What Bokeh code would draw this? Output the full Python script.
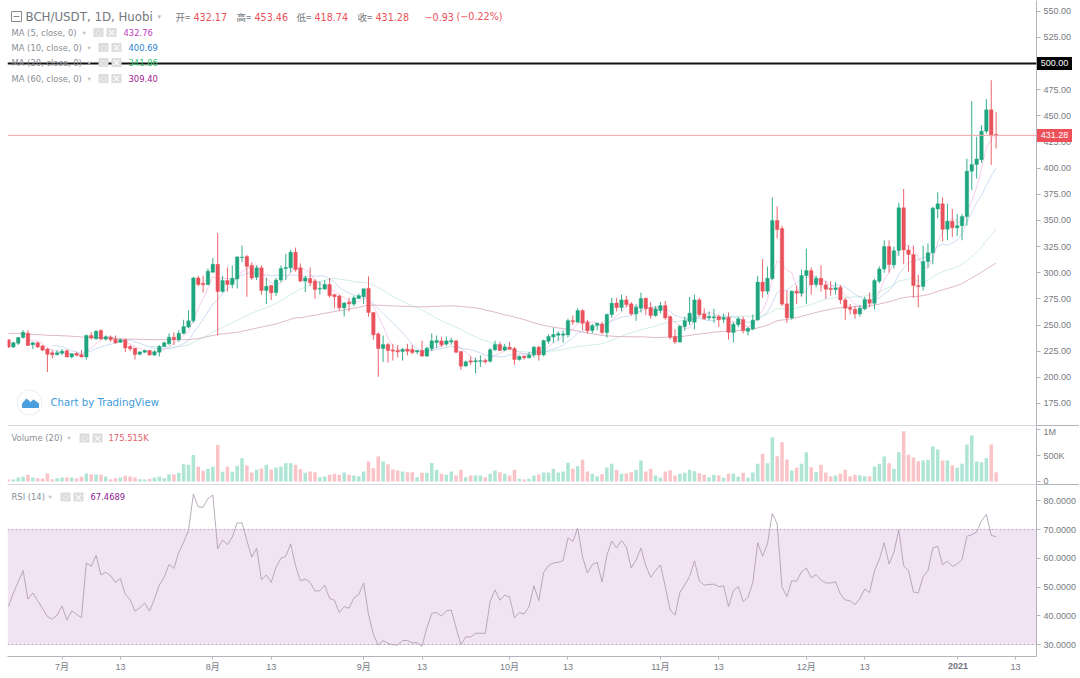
from bokeh.embed import file_html
from bokeh.layouts import column
from bokeh.models import (BoxAnnotation, ColumnDataSource, Div, FixedTicker, Label,
                          NumeralTickFormatter, Range1d, Span)
from bokeh.plotting import figure
from bokeh.resources import INLINE
import pandas as pd

# daily candles, 20 Jun 2020 onwards
opens = [
    236, 229, 232.6, 238, 242, 231, 233, 230, 227, 223.5,
    221.5, 223, 225.5, 219.5, 222.8, 221.5, 219.5, 240, 236.8, 244.7,
    236.5, 238.4, 236.4, 233.5, 236, 229.4, 227.8, 222, 224, 225.6,
    221.2, 224, 229.4, 232, 238.4, 236, 242, 248, 254, 295,
    290, 288.7, 300.5, 308, 282, 292.5, 288.7, 294, 314.5, 315.5,
    307, 295.7, 304.6, 283, 287.7, 281, 293, 304, 304.6, 319.6,
    304.6, 292, 294.5, 292, 284.3, 284.3, 288.7, 279, 277.6, 266.4,
    271.8, 270, 275.3, 277, 285, 262, 241.5, 227.5, 231.3, 226.2,
    225.6, 224.6, 227, 226.6, 224.3, 225.6, 220.2, 227.5, 233.2, 234.8,
    231.7, 233.9, 234.8, 224.6, 210.8, 215.8, 214.8, 215.4, 216, 215.4,
    226.3, 231.3, 226, 228.8, 227.5, 217, 220.2, 218.6, 221.4, 228.8,
    221.4, 234.5, 238.6, 240.2, 240.2, 240.5, 254.2, 252.7, 263.8, 252.7,
    244.7, 249.8, 251, 242.8, 260, 271, 266.7, 274, 270.2, 260.6,
    266, 275.6, 266.7, 259, 263.8, 268.6, 258, 239, 233.8, 248.5,
    253.3, 252.7, 274, 260.6, 256.8, 256.8, 258, 255.5, 257.4, 242.8,
    250.4, 255.2, 244, 246.3, 254.9, 291, 282.3, 294.4, 350, 342.2,
    270.2, 256.8, 282.3, 280.4, 297.3, 302, 288.7, 294.7, 288.4, 284.9,
    283.9, 286, 274, 266.7, 265, 260.6, 265.4, 274.3, 270.8, 291.9,
    303.6, 325, 307.5, 321.2, 362, 321.8, 317.4, 287.7, 286.8, 310.7,
    319, 361, 365.8, 341.6, 349.3, 342.9, 345, 353.7, 397, 403.4,
    408, 435.3, 455.7, 432.17,
]
closes = [
    229, 233, 238, 243, 230.5, 233, 229, 226, 222, 221.5,
    223.5, 225, 219.5, 222.5, 221, 219.5, 240, 237.5, 244, 236.5,
    238.7, 236, 233, 236, 228, 227.2, 221.8, 224.3, 225.6, 221.2,
    224.5, 229.4, 233, 238.4, 236, 242, 248.5, 254, 295, 288.7,
    288.5, 301.5, 308, 282, 292.5, 288.7, 294.8, 315, 315, 306,
    295, 304.6, 283, 287, 280.7, 293, 304, 305, 319.5, 303,
    292, 295, 290.3, 284, 285, 288.7, 278, 277, 266.4, 271,
    270.2, 276, 278, 284.6, 262, 240.6, 227.5, 231.3, 225.6, 225,
    224.3, 226.6, 225, 223.7, 225.6, 220.2, 227.8, 234.8, 235.2, 231,
    234.8, 235.2, 224, 210.6, 214.8, 214.5, 215.8, 216, 214.8, 226.3,
    231.3, 225.6, 229, 226.9, 217, 220, 218.6, 221.5, 228.8, 221.4,
    235.1, 239, 240.9, 241.8, 241.5, 254.2, 253, 263.8, 251.7, 244.4,
    249.5, 251.7, 242.8, 260, 270.8, 266.7, 274, 269.5, 260.6, 267,
    275.3, 265.7, 259, 265.4, 268.6, 256.8, 238.3, 233.8, 248.8, 254.2,
    261.3, 274, 260, 256, 258, 257.8, 255, 257, 243, 250.7,
    255.8, 244.7, 246.9, 254.6, 291, 282.3, 294.7, 350, 341.3, 270,
    256.8, 282.3, 280.4, 297.3, 302, 288.4, 294.7, 288.4, 284.2, 283.9,
    285.5, 274, 266, 265, 260.6, 266, 274.3, 270.8, 292.5, 303.6,
    325, 307.8, 321, 362, 321.8, 317.4, 287.7, 286.8, 310.7, 319,
    361.7, 365.8, 341.6, 349.3, 342.9, 345, 353.7, 397, 403.4, 408.8,
    435.3, 455.7, 431, 431.28,
]
highs = [
    236, 234, 238.5, 245, 245, 234, 234, 231, 228, 226,
    226, 227, 226.5, 223, 224, 226, 241, 243, 245, 246,
    240, 240, 240, 237, 237, 231, 228, 225, 226.5, 226,
    226, 231, 234, 242, 243, 245, 255, 264, 296, 297,
    297, 304, 314, 338, 297, 305, 307, 316, 326, 317,
    310, 307, 307, 295, 288, 295, 307, 318, 322, 324,
    309, 297, 305, 294, 292, 293, 295, 280, 279, 272,
    276, 278, 280, 285, 296.5, 262, 243, 240, 233, 232,
    231, 228, 232, 231, 226, 235, 229, 242, 240, 238.7,
    239, 238, 235.5, 225, 216, 220, 219, 221, 218, 228,
    235, 234, 232, 234, 229, 221, 221, 224, 230, 230,
    236, 241, 247.5, 244, 245, 256, 259, 266, 265, 255,
    251, 252, 253, 261, 276, 276, 279, 278, 272, 270,
    281, 276, 272, 268, 272, 273, 259, 246, 250, 258,
    277, 279, 276, 266, 263, 265.5, 260, 261, 262, 253,
    258, 258, 248, 260, 297, 313, 306, 372, 363.5, 345,
    283, 283, 287.7, 303, 323, 305, 297, 307, 292, 292,
    291, 288, 276, 270, 268, 269, 277, 281, 294, 306,
    331, 331, 325, 367, 380, 326, 326, 298, 326, 328,
    363, 377, 372, 366, 361, 356, 356, 409, 464, 430,
    441, 466, 484, 453.46,
]
lows = [
    228, 228, 231, 237, 230, 227, 228, 225, 205, 218,
    221, 221, 219, 218, 220, 219, 217, 236, 236, 236,
    235, 234, 232, 233, 224, 225, 217, 221, 223, 221,
    220.5, 220, 229, 231, 231, 234, 241, 247, 252, 287,
    281, 288, 300, 240, 281, 282, 285, 285, 310, 277,
    293, 293, 279, 270, 274, 278, 291, 293, 300, 301,
    291, 281.5, 287, 275, 279, 284, 276, 266, 264, 258,
    263, 268, 275, 270, 258, 236, 200.5, 214.5, 214, 216,
    219, 216, 221, 222, 222, 220, 220, 225, 228, 229,
    230, 231, 223, 207, 210, 212, 204, 210, 213, 214,
    225, 225, 225, 226, 212, 216, 217, 218, 219, 216,
    220, 232, 233, 235, 233, 238, 250, 252, 245, 242,
    242, 245, 241, 238, 257, 263, 263, 267, 259, 254,
    262, 259.5, 256, 258, 261, 255, 236, 232, 233, 244.5,
    250, 246, 258, 255, 254.5, 252, 248, 252, 236, 233.5,
    248, 242, 240, 245, 254, 276, 279, 293, 333, 268,
    252, 255, 270, 277, 270, 279, 286, 282, 275, 278,
    279, 270, 255, 260, 256, 258, 264, 267, 265, 290,
    300, 300, 304, 316, 308, 301, 276, 267, 283, 305,
    308, 352, 330, 331, 334, 335, 331, 345, 379, 390,
    405, 433, 403, 418.74,
]
# volume, thousands
volumes = [
    38, 38, 77, 90, 128, 77, 64, 58, 154, 45,
    64, 77, 77, 77, 58, 90, 154, 141, 134, 128,
    96, 45, 64, 77, 109, 96, 77, 45, 38, 51,
    77, 90, 64, 141, 134, 166, 333, 320, 512, 288,
    205, 243, 282, 704, 186, 282, 186, 301, 448, 307,
    173, 224, 250, 320, 230, 269, 288, 352, 352, 320,
    237, 166, 192, 179, 83, 96, 128, 147, 128, 173,
    128, 115, 102, 192, 384, 256, 480, 384, 333, 230,
    211, 192, 179, 179, 83, 166, 166, 358, 224, 147,
    128, 192, 115, 224, 83, 115, 115, 115, 83, 147,
    211, 179, 147, 115, 224, 51, 38, 51, 115, 134,
    173, 173, 244, 173, 192, 359, 244, 295, 417, 192,
    147, 103, 141, 269, 340, 224, 147, 154, 179, 224,
    404, 192, 244, 115, 77, 192, 218, 115, 147, 167,
    224, 199, 160, 128, 83, 128, 115, 71, 147, 147,
    90, 167, 71, 173, 340, 532, 353, 853, 487, 756,
    423, 212, 263, 340, 564, 276, 179, 320, 173, 103,
    115, 147, 224, 103, 128, 115, 103, 96, 288, 340,
    481, 353, 244, 564, 968, 513, 461, 391, 404, 417,
    673, 615, 404, 404, 308, 263, 340, 711, 885, 385,
    372, 449, 711, 175.515,
]
rsi = [
    43.2, 47.9, 51.8, 55.7, 45.8, 47.9, 45.2, 42.5, 39.7, 38.8,
    40.2, 43.4, 38.5, 41.7, 40.5, 39.3, 58.4, 57.2, 61, 54.2,
    55.1, 53.9, 51.6, 53, 47.5, 45.5, 41.6, 42.8, 44.4, 41.6,
    45.8, 50.7, 53.4, 57.9, 56.5, 62.1, 65.6, 69.7, 82.3, 77.9,
    77.7, 80.8, 82, 63.3, 66.4, 64.7, 67.4, 72.3, 72.3, 66.2,
    60.4, 63.5, 52.5, 54.2, 51.6, 56.9, 60, 60.7, 65, 57.4,
    52.2, 52.8, 51.6, 48.6, 48.7, 50.7, 46, 45.4, 41.1, 43.2,
    42.6, 46.2, 47.4, 51.4, 40.5, 33.5, 29.8, 31.4, 30.4, 29.9,
    29.8, 31.4, 31.4, 30.6, 30.6, 29.4, 35.8, 40.9, 41.1, 39.9,
    41.7, 42, 35.8, 29.9, 32.7, 32.6, 33.9, 33.9, 33.9, 45,
    49, 45.4, 47.2, 46.5, 39.3, 41.1, 40.6, 43.2, 50.4, 45.3,
    55.1, 57.4, 58.4, 58.6, 59.2, 67.1, 65.9, 70.5, 60.4, 54.9,
    57.8, 58.6, 51.8, 61, 66, 63.6, 66.2, 63.9, 56.6, 59.4,
    63.5, 57.4, 53.4, 55.7, 57.7, 50.2, 42, 40.2, 48.1, 50.7,
    53.7, 59.1, 52.2, 50.7, 50.9, 51, 50.1, 50.4, 43.2, 48.7,
    50.2, 45, 46.4, 51.6, 65.4, 60.7, 65, 75.6, 72, 49.9,
    46.7, 52.2, 52, 55.3, 56.6, 53.2, 54.3, 52.4, 51.4, 51.4,
    51.8, 47.5, 45.5, 45.2, 43.9, 46, 49.3, 48.1, 55.7, 59.6,
    65.4, 58, 62.1, 69.9, 57.4, 55.7, 48.3, 47.9, 53.6, 55.7,
    63.6, 64.2, 57.8, 59, 57.2, 58, 59.6, 67.6, 68.2, 69.1,
    73, 75.3, 68, 67.47,
]
# MA60 over the first 60 candles: its history lies left of the picture
ma60_head = [
    242, 242, 241.8, 241.5, 241.3, 241, 240.8, 240.5, 240.2, 240,
    240, 239.7, 239.5, 239.2, 239, 238.5, 238, 238, 238, 237.8,
    237.5, 237.3, 237, 236.8, 236.6, 236.5, 236.4, 236.3, 236.2, 236.1,
    236, 236, 236, 236, 236, 236, 236, 236, 236.5, 237,
    238, 239, 240, 241, 241.5, 242, 242.5, 243, 244, 245,
    246, 247, 248, 249, 250, 251, 252.5, 254, 255.5, 257,
]
date_ticks = [11, 23, 42, 54, 73, 85, 103, 115, 134, 146, 164, 176, 195, 207]
date_labels = ["7月", "13", "8月", "13", "9月", "13", "10月", "13", "11月", "13", "12月", "13", "", "13"]
price_ticks = [175, 200, 225, 250, 275, 300, 325, 350, 375, 400, 425, 450, 475, 500, 525, 550]
rsi_ticks = [30, 40, 50, 60, 70, 80]
volume_ticks = [0, 500, 1000]
volume_labels = ["0", "500K", "1M"]

UP = "#1fa67f"
DOWN = "#e9525c"
UP_VOL = "#aee5d5"
DOWN_VOL = "#fac3c7"
GREY = "#787b84"
AXIS = "#b4b4bc"
UI_FONT = "DejaVu Sans"
AXIS_FONT = "Liberation Sans, Noto Sans CJK SC"

df = pd.DataFrame({"open": opens, "high": highs, "low": lows, "close": closes,
                   "volume": volumes, "rsi": rsi})
df["i"] = df.index
df["top"] = df[["open", "close"]].max(axis=1)
df["bottom"] = df[["open", "close"]].min(axis=1)
up = df["close"] >= df["open"]
df["color"] = [UP if u else DOWN for u in up]
df["vol_color"] = [UP_VOL if u else DOWN_VOL for u in up]
df["ma5"] = df["close"].rolling(5).mean()
df["ma10"] = df["close"].rolling(10).mean()
# the third line's last value 341.86 only fits a 30 day mean of the closes
df["ma30"] = df["close"].rolling(30).mean()
df["ma60"] = df["close"].rolling(60).mean()
df.loc[:59, "ma60"] = ma60_head
source = ColumnDataSource(df)

x_range = Range1d(-1 / 4.865, 1028 / 4.865)


def pane(height, y_start, y_end, ticks, **kw):
    p = figure(frame_width=1029, frame_height=height, x_range=x_range,
               y_range=Range1d(y_start, y_end), output_backend="svg",
               toolbar_location=None, y_axis_location="right",
               min_border_left=7, min_border_right=43, min_border_top=0,
               min_border_bottom=kw.get("bottom", 0))
    p.grid.visible = False
    p.outline_line_color = None
    p.yaxis.ticker = FixedTicker(ticks=ticks)
    p.yaxis.minor_tick_line_color = None
    p.yaxis.major_tick_out = 4
    p.yaxis.major_tick_in = 0
    p.yaxis.major_label_standoff = 3
    p.yaxis.axis_line_color = AXIS
    p.yaxis.major_tick_line_color = AXIS
    p.yaxis.major_label_text_color = GREY
    p.yaxis.major_label_text_font = AXIS_FONT
    p.yaxis.major_label_text_font_size = "9px"
    return p


def note(p, text, x, y, color=GREY, size=8.6, font=UI_FONT, align="left", page_top=0, style="normal"):
    p.add_layout(Label(x=x, y=y - page_top, x_units="canvas", y_units="canvas", text=text,
                       text_color=color, text_font=font, text_font_size=f"{size}px",
                       text_font_style=style, text_align=align, text_baseline="middle"))


def box(p, left, right, top, bottom, color, page_top=0, line=None):
    p.add_layout(BoxAnnotation(left=left, right=right, top=top - page_top, bottom=bottom - page_top,
                               left_units="canvas", right_units="canvas",
                               top_units="canvas", bottom_units="canvas",
                               fill_color=color, fill_alpha=1 if color else 0,
                               line_color=line, line_alpha=1 if line else 0,
                               level="annotation"))


def icons(p, left, gap, top, page_top):
    box(p, left, left + 10, top, top + 9, "#dcdcde", page_top)
    box(p, left + gap, left + gap + 10, top, top + 9, "#dcdcde", page_top)
    note(p, "×", left + gap + 5, top + 4.5, "#ffffff", 10, align="center", page_top=page_top)
    note(p, "○", left + 5, top + 4.5, "#ffffff", 7, align="center", page_top=page_top)


def tag(left, top, width, height, color, text="", text_color="#ffffff", weight="normal"):
    # laid over the axis strip, where a pane's own annotations get cut off
    return Div(text=text, width=width, height=height, margin=0,
               styles={"position": "absolute", "left": f"{left}px", "top": f"{top}px",
                       "background-color": color, "color": text_color, "text-align": "center",
                       "font-family": "Liberation Sans", "font-size": "9px", "font-weight": weight,
                       "line-height": f"{height}px", "overflow": "hidden"})


# price pane
p1 = pane(426, 500 - 363 / 1.046, 500 + 63 / 1.046, price_ticks)
p1.xaxis.visible = False
p1.yaxis.formatter = NumeralTickFormatter(format="0.00")
for col, color, alpha in [("ma60", "#c77f9d", 0.7), ("ma30", "#9bdcc6", 0.6),
                          ("ma10", "#8db2e2", 0.55), ("ma5", "#e58fd4", 0.55)]:
    p1.line("i", col, source=source, line_color=color, line_alpha=alpha, line_width=0.8)
p1.segment("i", "high", "i", "low", source=source, line_color="color", line_width=0.9)
p1.vbar("i", 0.72, "top", "bottom", source=source, fill_color="color", line_color="color", line_width=0.4)
p1.add_layout(Span(location=431.28, dimension="width", line_color="#f4a6ab", line_width=1))
p1.add_layout(Span(location=500, dimension="width", line_color="#111111", line_width=2))

# TradingView badge
logo_x = [(v - 8) / 4.865 for v in [22, 22, 26, 30, 33, 38, 38]]
logo_y = [500 - (v - 63) / 1.046 for v in [407, 403, 398.5, 402, 399.5, 403, 407]]
p1.scatter([(29 - 8) / 4.865], [500 - (402 - 63) / 1.046], size=25, marker="circle",
           fill_color="#ffffff", line_color="#e6edf5")
p1.patch(logo_x, logo_y, fill_color="#4b9fdf", line_color="#4b9fdf")
note(p1, "Chart by TradingView", 50, 402, "#3f9ad8", 10.2)

# header texts
box(p1, 11, 21, 11, 21, None, line="#8a8a8a")
box(p1, 13, 19, 15.6, 16.4, "#8a8a8a")
note(p1, "BCH/USDT, 1D, Huobi", 25, 16, "#75787e", 11.8)
note(p1, "▾", 157, 16, "#b8b8b8", 7)
red = "#ea4f58"
for label, val, xl, xv in [("开=", "432.17", 175, 193), ("高=", "453.46", 236, 254),
                           ("低=", "418.74", 296, 314), ("收=", "431.28", 357, 375)]:
    note(p1, label, xl, 16, "#75787e", 9.6, "Noto Sans CJK SC")
    note(p1, val, xv, 16, red, 9.6)
note(p1, "−0.93", 424, 16, red, 9.6)
note(p1, "(−0.22%)", 456, 16, red, 9.6)
for label, val, color, y, dd, ic, xv in [
    ("MA (5, close, 0)", "432.76", "#c43cc0", 32, 82, 93, 123),
    ("MA (10, close, 0)", "400.69", "#2b7fd1", 47, 87, 98, 128),
    ("MA (20, close, 0)", "341.86", "#2fc46f", 62, 87, 98, 128),
    ("MA (60, close, 0)", "309.40", "#a3208f", 78, 87, 98, 128),
]:
    note(p1, label, 11, y, "#8a8d93", 8.4)
    note(p1, "▾", dd, y, "#c0c0c0", 6.5)
    icons(p1, ic, 13, y - 4.5, 0)
    note(p1, val, xv, y, color, 8.4)
box(p1, 7, 1036, 425, 426, AXIS)

# volume pane
p2 = pane(59, -77, 1058, volume_ticks)
p2.xaxis.visible = False
p2.yaxis.major_label_overrides = dict(zip(volume_ticks, volume_labels))
p2.vbar("i", 0.72, "volume", 0, source=source, fill_color="vol_color", line_color=None)
note(p2, "Volume (20)", 11, 437.5, "#8a8d93", 8.4, page_top=426)
note(p2, "▾", 67, 437.5, "#c0c0c0", 6.5, page_top=426)
icons(p2, 79, 13, 433, 426)
note(p2, "175.515K", 108, 437.5, "#e0606a", 8.4, page_top=426)
box(p2, 7, 1036, 484, 485, AXIS, 426)

# RSI pane
p3 = pane(171, 30 - 12 / 2.875, 80 + 15.3 / 2.875, rsi_ticks, bottom=20)
p3.yaxis.formatter = NumeralTickFormatter(format="0.0000")
p3.add_layout(BoxAnnotation(bottom=30, top=70, fill_color="#f2e3f3", fill_alpha=1, line_color=None, level="underlay"))
for level in [30, 70]:
    p3.add_layout(Span(location=level, dimension="width", line_color="#bda3bb", line_width=1, line_dash="2 2"))
p3.line("i", "rsi", source=source, line_color="#a898ad", line_width=0.8)
p3.xaxis.ticker = FixedTicker(ticks=date_ticks)
p3.xaxis.major_label_overrides = dict(zip(date_ticks, date_labels))
p3.xaxis.minor_tick_line_color = None
p3.xaxis.major_tick_in = 0
p3.xaxis.major_tick_out = 3
p3.xaxis.major_label_standoff = 2
p3.xaxis.axis_line_color = AXIS
p3.xaxis.major_tick_line_color = AXIS
p3.xaxis.major_label_text_color = GREY
p3.xaxis.major_label_text_font = AXIS_FONT
p3.xaxis.major_label_text_font_size = "9px"
note(p3, "RSI (14)", 11, 496, "#8a8d93", 8.4, page_top=485)
note(p3, "▾", 48, 496, "#c0c0c0", 6.5, page_top=485)
icons(p3, 60, 13, 492, 485)
note(p3, "67.4689", 90, 496, "#8a1b8f", 8.4, page_top=485)

tags = [
    tag(1037, 57, 35, 13, "#000000", "500.00"),
    tag(1037, 129, 35, 13, "#ef5058", "431.28"),
    tag(1036, 425, 43, 1, AXIS),
    tag(1036, 484, 43, 1, AXIS),
    tag(945, 660, 26, 13, "#ffffff", "2021", "#6f7279", "bold"),
]
layout = column(p1, p2, p3, *tags, spacing=0)
open("out.html", "w").write(file_html(layout, INLINE))
